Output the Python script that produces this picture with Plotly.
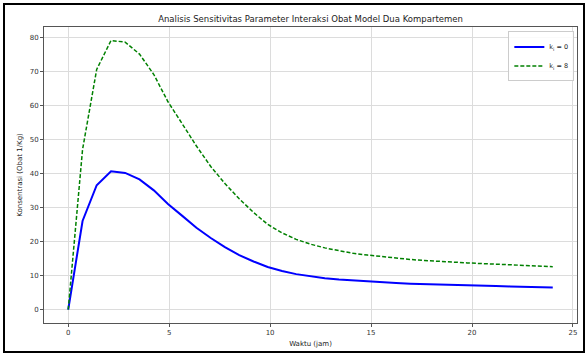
import plotly.graph_objects as go

# Data
waktu = [0, 0.71, 1.41, 2.12, 2.82, 3.53, 4.24, 4.94, 5.65, 6.35, 7.06, 7.76, 8.47, 9.18,
         9.88, 10.59, 11.29, 12.0, 12.71, 13.41, 14.12, 14.82, 15.53, 16.24, 16.94, 17.65,
         18.35, 19.06, 19.76, 20.47, 21.18, 21.88, 22.59, 23.29, 24.0]
konsentrasi_k0 = [0, 26, 36.5, 40.6, 40.1, 38.2, 35, 31, 27.5, 24, 21, 18.3, 16, 14.1,
                  12.5, 11.3, 10.4, 9.7, 9.2, 8.8, 8.5, 8.2, 8.0, 7.8, 7.6, 7.45,
                  7.3, 7.2, 7.1, 7.0, 6.9, 6.8, 6.7, 6.6, 6.5]
konsentrasi_k8 = [0, 47, 70.5, 79, 78.5, 75, 69, 61, 54.5, 48, 42, 37, 32.5, 28.5,
                  25, 22.5, 20.6, 19.2, 18.1, 17.2, 16.5, 16.0, 15.5, 15.1, 14.7, 14.4,
                  14.1, 13.9, 13.7, 13.5, 13.3, 13.1, 12.9, 12.75, 12.6]
label_k0 = "k<sub>i</sub> = 0"
label_k8 = "k<sub>i</sub> = 8"
x_ticks = [0, 5, 10, 15, 20, 25]
y_ticks = [0, 10, 20, 30, 40, 50, 60, 70, 80]

W, H = 587, 356
L, R, T, B = 44, 10, 27, 33
pw, ph = W - L - R, H - T - B

fig = go.Figure()
fig.add_trace(go.Scatter(x=waktu, y=konsentrasi_k0, mode="lines", name=label_k0,
                         line=dict(color="#0000ff", width=2)))
fig.add_trace(go.Scatter(x=waktu, y=konsentrasi_k8, mode="lines", name=label_k8,
                         line=dict(color="#008000", width=1.5, dash="4px,2px")))

axis_common = dict(showgrid=True, gridcolor="#dcdcdc", gridwidth=1, zeroline=False,
                   showline=True, linecolor="#555555", linewidth=1, mirror=True,
                   ticks="outside", ticklen=3, tickcolor="#555555",
                   tickfont=dict(size=7, color="#333333"))

fig.update_layout(
    width=W, height=H,
    margin=dict(l=L, r=R, t=T, b=B),
    paper_bgcolor="white", plot_bgcolor="white",
    font=dict(family="DejaVu Sans", color="#222222"),
    title=dict(text="Analisis Sensitivitas Parameter Interaksi Obat Model Dua Kompartemen",
               x=(L + pw / 2) / W, xanchor="center", y=1 - 19 / H, yanchor="middle",
               font=dict(size=8.5, color="#222222")),
    xaxis=dict(range=[-1.2, 25.2], tickvals=x_ticks,
               title=dict(text="Waktu (jam)", font=dict(size=7), standoff=4), **axis_common),
    yaxis=dict(range=[-3.95, 82.95], tickvals=y_ticks,
               title=dict(text="Konsentrasi (Obat 1/Kg)", font=dict(size=7), standoff=6), **axis_common),
    legend=dict(x=0.995, y=0.985, xanchor="right", yanchor="top",
                bgcolor="rgba(255,255,255,0.85)", bordercolor="#cccccc", borderwidth=1,
                font=dict(size=6.5), tracegroupgap=0, itemwidth=30),
    showlegend=True,
)

# outer black frame around the figure
fig.add_shape(type="rect", xref="paper", yref="paper",
              x0=(4 - L) / pw, x1=(584 - L) / pw,
              y0=1 - (352 - T) / ph, y1=1 + (T - 4) / ph,
              line=dict(color="black", width=2), layer="above")

fig.write_html("out.html")
